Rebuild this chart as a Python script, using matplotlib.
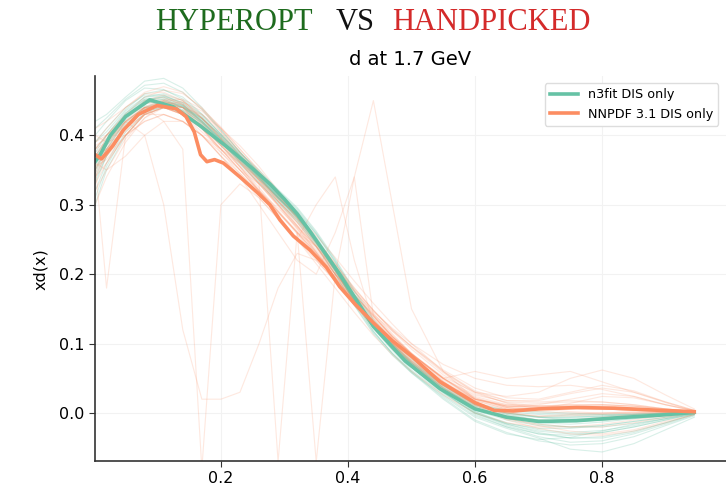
import numpy as np
import matplotlib
matplotlib.use('Agg')
import matplotlib.pyplot as plt

GREEN = '#66c2a5'
ORANGE = '#fc8d62'

# central values
x_n3fit = [0.002, 0.01, 0.026, 0.05, 0.088, 0.125, 0.167, 0.214, 0.25, 0.277, 0.3, 0.32,
           0.34, 0.387, 0.44, 0.49, 0.545, 0.6, 0.65, 0.7, 0.76, 0.82, 0.89, 0.945]
y_n3fit = [0.362, 0.372, 0.4, 0.427, 0.451, 0.441, 0.414, 0.38, 0.352, 0.33, 0.308, 0.287,
           0.262, 0.2, 0.125, 0.075, 0.035, 0.006, -0.006, -0.012, -0.011, -0.007, -0.003, 0.001]

x_nnpdf = [0.002, 0.012, 0.03, 0.046, 0.07, 0.1, 0.13, 0.145, 0.158, 0.168, 0.178, 0.19,
           0.204, 0.23, 0.257, 0.277, 0.293, 0.314, 0.34, 0.366, 0.387, 0.41, 0.44, 0.47,
           0.5, 0.545, 0.6, 0.63, 0.66, 0.7, 0.76, 0.82, 0.89, 0.945]
y_nnpdf = [0.372, 0.366, 0.385, 0.407, 0.43, 0.443, 0.438, 0.427, 0.405, 0.372, 0.362, 0.365,
           0.36, 0.34, 0.318, 0.3, 0.278, 0.255, 0.235, 0.21, 0.182, 0.158, 0.13, 0.104,
           0.082, 0.045, 0.015, 0.004, 0.003, 0.006, 0.008, 0.007, 0.004, 0.002]

# replicas, all on the same x grid
x_rep = [0.002, 0.02, 0.05, 0.08, 0.11, 0.14, 0.17, 0.20, 0.23, 0.26, 0.29, 0.32, 0.35, 0.38,
         0.41, 0.44, 0.47, 0.50, 0.55, 0.60, 0.65, 0.70, 0.75, 0.80, 0.85, 0.90, 0.945]

reps_n3fit = [
    [0.33, 0.37, 0.41, 0.435, 0.44, 0.432, 0.413, 0.39, 0.364, 0.338, 0.31, 0.282, 0.248, 0.205, 0.16, 0.118, 0.085, 0.058, 0.02, -0.012, -0.03, -0.038, -0.035, -0.026, -0.016, -0.008, -0.002],
    [0.40, 0.42, 0.45, 0.468, 0.466, 0.452, 0.43, 0.402, 0.372, 0.345, 0.316, 0.29, 0.258, 0.218, 0.172, 0.132, 0.1, 0.076, 0.042, 0.014, 0.0, -0.005, -0.006, -0.005, -0.003, -0.001, 0.001],
    [0.35, 0.385, 0.42, 0.44, 0.445, 0.437, 0.418, 0.394, 0.368, 0.342, 0.313, 0.286, 0.25, 0.208, 0.163, 0.122, 0.09, 0.062, 0.028, 0.0, -0.015, -0.022, -0.022, -0.018, -0.012, -0.006, 0.0],
    [0.38, 0.40, 0.435, 0.455, 0.457, 0.447, 0.424, 0.397, 0.368, 0.34, 0.31, 0.282, 0.246, 0.204, 0.16, 0.122, 0.094, 0.072, 0.04, 0.012, 0.002, -0.002, -0.004, -0.004, -0.002, 0.0, 0.001],
    [0.31, 0.355, 0.405, 0.432, 0.443, 0.44, 0.424, 0.4, 0.372, 0.344, 0.314, 0.288, 0.254, 0.213, 0.168, 0.128, 0.097, 0.07, 0.032, 0.002, -0.014, -0.024, -0.028, -0.025, -0.018, -0.008, 0.0],
    [0.37, 0.395, 0.43, 0.452, 0.455, 0.443, 0.42, 0.391, 0.36, 0.332, 0.302, 0.275, 0.24, 0.2, 0.156, 0.116, 0.086, 0.06, 0.026, -0.004, -0.02, -0.03, -0.032, -0.028, -0.02, -0.01, -0.001],
    [0.36, 0.392, 0.432, 0.455, 0.46, 0.45, 0.428, 0.402, 0.375, 0.35, 0.322, 0.296, 0.262, 0.222, 0.177, 0.136, 0.104, 0.078, 0.043, 0.013, -0.002, -0.01, -0.012, -0.01, -0.006, -0.002, 0.002],
    [0.34, 0.375, 0.415, 0.44, 0.448, 0.443, 0.425, 0.398, 0.37, 0.343, 0.312, 0.284, 0.248, 0.206, 0.16, 0.118, 0.086, 0.06, 0.022, -0.01, -0.028, -0.04, -0.046, -0.044, -0.034, -0.018, -0.004],
    [0.39, 0.41, 0.44, 0.458, 0.458, 0.445, 0.42, 0.392, 0.364, 0.338, 0.31, 0.284, 0.25, 0.211, 0.168, 0.128, 0.098, 0.074, 0.04, 0.012, 0.0, -0.006, -0.008, -0.007, -0.004, -0.001, 0.002],
    [0.35, 0.38, 0.422, 0.447, 0.452, 0.442, 0.418, 0.39, 0.362, 0.336, 0.305, 0.278, 0.242, 0.2, 0.155, 0.114, 0.083, 0.058, 0.024, -0.006, -0.022, -0.036, -0.052, -0.056, -0.044, -0.024, -0.006],
    [0.365, 0.39, 0.425, 0.446, 0.45, 0.44, 0.42, 0.396, 0.37, 0.346, 0.318, 0.292, 0.258, 0.217, 0.17, 0.13, 0.098, 0.072, 0.036, 0.008, -0.006, -0.014, -0.016, -0.013, -0.008, -0.003, 0.001],
    [0.32, 0.36, 0.41, 0.437, 0.446, 0.441, 0.422, 0.395, 0.366, 0.338, 0.308, 0.28, 0.245, 0.205, 0.162, 0.124, 0.094, 0.068, 0.033, 0.004, -0.01, -0.018, -0.02, -0.018, -0.012, -0.006, 0.0],
    [0.41, 0.425, 0.452, 0.472, 0.475, 0.462, 0.437, 0.407, 0.376, 0.346, 0.315, 0.287, 0.252, 0.21, 0.165, 0.126, 0.095, 0.07, 0.036, 0.008, -0.004, -0.01, -0.012, -0.01, -0.006, -0.002, 0.001],
    [0.355, 0.385, 0.425, 0.447, 0.447, 0.435, 0.412, 0.385, 0.358, 0.332, 0.304, 0.278, 0.244, 0.204, 0.162, 0.124, 0.095, 0.07, 0.036, 0.01, 0.0, -0.006, -0.01, -0.011, -0.008, -0.004, 0.0],
    [0.30, 0.35, 0.40, 0.43, 0.44, 0.436, 0.418, 0.393, 0.366, 0.339, 0.309, 0.281, 0.246, 0.206, 0.163, 0.125, 0.095, 0.069, 0.03, -0.002, -0.02, -0.034, -0.042, -0.04, -0.03, -0.016, -0.003],
    [0.42, 0.43, 0.455, 0.478, 0.482, 0.468, 0.44, 0.408, 0.376, 0.346, 0.314, 0.286, 0.25, 0.208, 0.164, 0.126, 0.096, 0.072, 0.038, 0.012, 0.004, 0.002, 0.0, -0.002, -0.002, 0.0, 0.001],
    [0.345, 0.38, 0.418, 0.442, 0.449, 0.442, 0.424, 0.4, 0.374, 0.348, 0.32, 0.294, 0.26, 0.22, 0.175, 0.134, 0.1, 0.072, 0.034, 0.002, -0.016, -0.026, -0.03, -0.028, -0.02, -0.01, -0.001],
    [0.375, 0.4, 0.432, 0.452, 0.454, 0.444, 0.421, 0.394, 0.366, 0.34, 0.311, 0.284, 0.249, 0.208, 0.164, 0.124, 0.094, 0.069, 0.034, 0.006, -0.008, -0.016, -0.02, -0.02, -0.015, -0.008, 0.0],
    [0.36, 0.388, 0.426, 0.45, 0.456, 0.447, 0.426, 0.398, 0.369, 0.341, 0.311, 0.283, 0.247, 0.206, 0.162, 0.122, 0.092, 0.066, 0.03, 0.0, -0.016, -0.028, -0.036, -0.036, -0.028, -0.014, -0.002],
    [0.39, 0.405, 0.437, 0.46, 0.465, 0.455, 0.431, 0.401, 0.371, 0.342, 0.312, 0.285, 0.25, 0.21, 0.166, 0.127, 0.097, 0.072, 0.037, 0.01, -0.002, -0.006, -0.006, -0.004, -0.002, 0.0, 0.001],
    [0.335, 0.37, 0.412, 0.438, 0.446, 0.44, 0.42, 0.394, 0.367, 0.34, 0.311, 0.283, 0.248, 0.207, 0.163, 0.123, 0.092, 0.066, 0.03, 0.0, -0.018, -0.03, -0.036, -0.034, -0.026, -0.014, -0.002],
    [0.37, 0.392, 0.428, 0.45, 0.452, 0.44, 0.416, 0.389, 0.362, 0.337, 0.309, 0.283, 0.25, 0.211, 0.168, 0.129, 0.099, 0.074, 0.04, 0.014, 0.004, 0.0, -0.002, -0.002, -0.001, 0.0, 0.001],
]

reps_nnpdf = [
    [0.35, 0.38, 0.42, 0.445, 0.45, 0.44, 0.41, 0.38, 0.35, 0.32, 0.29, 0.262, 0.23, 0.195, 0.16, 0.13, 0.104, 0.08, 0.045, 0.02, 0.01, 0.01, 0.012, 0.012, 0.01, 0.006, 0.003],
    [0.40, 0.39, 0.40, 0.42, 0.43, 0.42, 0.40, 0.375, 0.35, 0.33, 0.305, 0.28, 0.25, 0.215, 0.18, 0.148, 0.12, 0.096, 0.06, 0.032, 0.018, 0.016, 0.018, 0.016, 0.012, 0.006, 0.002],
    [0.33, 0.36, 0.40, 0.43, 0.445, 0.44, 0.42, 0.39, 0.355, 0.32, 0.285, 0.25, 0.215, 0.18, 0.145, 0.112, 0.084, 0.06, 0.026, 0.0, -0.014, -0.02, -0.02, -0.016, -0.01, -0.004, 0.0],
    [0.38, 0.40, 0.43, 0.455, 0.465, 0.46, 0.44, 0.41, 0.375, 0.34, 0.305, 0.27, 0.232, 0.195, 0.16, 0.128, 0.1, 0.076, 0.04, 0.012, 0.0, -0.004, -0.002, 0.0, 0.002, 0.002, 0.001],
    [0.36, 0.35, 0.37, 0.40, 0.42, 0.42, 0.40, 0.37, 0.345, 0.32, 0.295, 0.268, 0.24, 0.208, 0.175, 0.146, 0.122, 0.1, 0.07, 0.05, 0.04, 0.038, 0.04, 0.034, 0.024, 0.012, 0.004],
    [0.34, 0.37, 0.41, 0.44, 0.45, 0.445, 0.425, 0.4, 0.37, 0.34, 0.308, 0.275, 0.24, 0.2, 0.162, 0.128, 0.098, 0.072, 0.036, 0.008, -0.008, -0.018, -0.026, -0.03, -0.024, -0.012, -0.002],
    [0.39, 0.41, 0.44, 0.46, 0.462, 0.45, 0.425, 0.395, 0.362, 0.33, 0.298, 0.265, 0.232, 0.2, 0.17, 0.142, 0.118, 0.096, 0.062, 0.036, 0.022, 0.02, 0.03, 0.04, 0.032, 0.016, 0.004],
    [0.37, 0.38, 0.405, 0.43, 0.44, 0.43, 0.405, 0.38, 0.355, 0.33, 0.3, 0.27, 0.238, 0.2, 0.163, 0.13, 0.1, 0.074, 0.038, 0.01, -0.004, -0.01, -0.01, -0.006, -0.002, 0.0, 0.001],
    [0.32, 0.35, 0.395, 0.425, 0.44, 0.44, 0.43, 0.41, 0.385, 0.355, 0.32, 0.285, 0.25, 0.215, 0.18, 0.148, 0.118, 0.092, 0.055, 0.028, 0.015, 0.01, 0.008, 0.006, 0.004, 0.002, 0.001],
    [0.385, 0.395, 0.42, 0.44, 0.448, 0.44, 0.415, 0.385, 0.355, 0.325, 0.292, 0.26, 0.226, 0.19, 0.156, 0.125, 0.098, 0.075, 0.042, 0.02, 0.012, 0.012, 0.02, 0.028, 0.024, 0.012, 0.003],
    [0.355, 0.365, 0.40, 0.43, 0.44, 0.435, 0.415, 0.39, 0.362, 0.335, 0.306, 0.276, 0.244, 0.21, 0.176, 0.144, 0.114, 0.086, 0.046, 0.012, -0.01, -0.022, -0.03, -0.032, -0.026, -0.014, -0.002],
    [0.375, 0.39, 0.425, 0.45, 0.458, 0.45, 0.425, 0.395, 0.364, 0.334, 0.3, 0.268, 0.235, 0.2, 0.165, 0.134, 0.108, 0.085, 0.052, 0.03, 0.024, 0.03, 0.05, 0.062, 0.05, 0.026, 0.006],
    [0.30, 0.34, 0.39, 0.425, 0.445, 0.448, 0.435, 0.41, 0.38, 0.35, 0.318, 0.285, 0.25, 0.212, 0.175, 0.142, 0.112, 0.086, 0.05, 0.022, 0.01, 0.008, 0.01, 0.012, 0.01, 0.006, 0.002],
    [0.41, 0.42, 0.44, 0.462, 0.47, 0.462, 0.438, 0.405, 0.37, 0.335, 0.3, 0.266, 0.232, 0.196, 0.162, 0.132, 0.106, 0.084, 0.05, 0.026, 0.016, 0.014, 0.016, 0.016, 0.012, 0.006, 0.002],
    [0.345, 0.37, 0.41, 0.438, 0.448, 0.44, 0.41, 0.376, 0.345, 0.316, 0.288, 0.26, 0.23, 0.196, 0.162, 0.13, 0.102, 0.078, 0.044, 0.018, 0.006, 0.006, 0.014, 0.024, 0.022, 0.012, 0.003],
    [0.365, 0.385, 0.418, 0.44, 0.445, 0.435, 0.412, 0.386, 0.36, 0.336, 0.31, 0.284, 0.256, 0.224, 0.19, 0.158, 0.128, 0.1, 0.06, 0.03, 0.014, 0.006, 0.002, 0.0, 0.0, 0.001, 0.001],
    [0.39, 0.40, 0.425, 0.448, 0.455, 0.445, 0.418, 0.386, 0.354, 0.322, 0.29, 0.258, 0.225, 0.19, 0.155, 0.124, 0.096, 0.072, 0.036, 0.008, -0.008, -0.016, -0.02, -0.02, -0.014, -0.006, 0.0],
    [0.34, 0.36, 0.40, 0.432, 0.45, 0.452, 0.438, 0.412, 0.38, 0.348, 0.315, 0.282, 0.248, 0.212, 0.178, 0.148, 0.12, 0.095, 0.058, 0.03, 0.018, 0.018, 0.028, 0.036, 0.03, 0.016, 0.004],
    [0.38, 0.39, 0.415, 0.44, 0.452, 0.448, 0.43, 0.405, 0.376, 0.346, 0.314, 0.28, 0.244, 0.206, 0.17, 0.138, 0.11, 0.086, 0.05, 0.022, 0.008, 0.002, 0.0, 0.0, 0.001, 0.001, 0.001],
    [0.355, 0.375, 0.41, 0.436, 0.448, 0.444, 0.424, 0.396, 0.366, 0.336, 0.305, 0.274, 0.24, 0.204, 0.168, 0.136, 0.108, 0.084, 0.05, 0.024, 0.012, 0.01, 0.012, 0.012, 0.01, 0.005, 0.002],
    # badly behaved replicas
    [0.36, 0.40, 0.43, 0.44, 0.42, 0.38, -0.08, 0.30, 0.33, 0.31, 0.28, 0.25, 0.22, 0.19, 0.16, 0.13, 0.10, 0.08, 0.045, 0.015, 0.005, 0.006, 0.008, 0.007, 0.005, 0.003, 0.002],
    [0.37, 0.38, 0.41, 0.43, 0.43, 0.42, 0.40, 0.37, 0.34, 0.30, 0.26, 0.22, 0.20, 0.26, 0.34, 0.45, 0.30, 0.15, 0.06, 0.02, 0.01, 0.01, 0.01, 0.008, 0.006, 0.003, 0.002],
    [0.35, 0.37, 0.40, 0.42, 0.43, 0.42, 0.40, 0.38, 0.36, 0.33, -0.07, 0.26, 0.24, 0.20, 0.17, 0.14, 0.11, 0.085, 0.05, 0.02, 0.008, 0.005, 0.006, 0.006, 0.004, 0.002, 0.001],
    [0.36, 0.18, 0.40, 0.43, 0.44, 0.43, 0.41, 0.385, 0.36, 0.33, 0.30, 0.27, 0.24, 0.205, 0.17, 0.14, 0.11, 0.085, 0.048, 0.02, 0.01, 0.008, 0.01, 0.01, 0.008, 0.004, 0.002],
    [0.38, 0.40, 0.42, 0.40, 0.30, 0.12, 0.02, 0.02, 0.03, 0.10, 0.18, 0.23, 0.22, 0.19, 0.16, 0.13, 0.10, 0.075, 0.04, 0.012, 0.0, -0.005, -0.004, -0.002, 0.0, 0.001, 0.002],
    [0.37, 0.39, 0.42, 0.44, 0.44, 0.43, 0.41, 0.38, 0.35, 0.32, 0.29, 0.26, -0.07, 0.20, 0.34, 0.14, 0.11, 0.085, 0.05, 0.02, 0.008, 0.006, 0.007, 0.006, 0.004, 0.002, 0.001],
    [0.37, 0.39, 0.42, 0.44, 0.44, 0.43, 0.40, 0.37, 0.34, 0.31, 0.28, 0.25, 0.30, 0.34, 0.22, 0.13, 0.10, 0.08, 0.045, 0.018, 0.006, 0.006, 0.008, 0.007, 0.005, 0.003, 0.002],
    [0.36, 0.38, 0.41, 0.43, 0.44, 0.43, 0.41, 0.38, 0.35, 0.32, 0.29, 0.26, 0.23, 0.20, 0.17, 0.14, 0.11, 0.085, 0.05, 0.06, 0.05, 0.055, 0.06, 0.045, 0.03, 0.015, 0.003],
]

fig = plt.figure(figsize=(7.26, 4.92), dpi=100)
ax = fig.add_axes([0.131, 0.063, 0.869, 0.782])

for rep in reps_n3fit:
    ax.plot(x_rep, rep, color=GREEN, lw=0.8, alpha=0.25)
for rep in reps_nnpdf:
    ax.plot(x_rep, rep, color=ORANGE, lw=0.8, alpha=0.2)

ax.plot(x_n3fit, y_n3fit, color=GREEN, lw=2.6, label='n3fit DIS only')
ax.plot(x_nnpdf, y_nnpdf, color=ORANGE, lw=2.6, label='NNPDF 3.1 DIS only')

ax.set_xlim(0.002, 0.995)
ax.set_ylim(-0.069, 0.485)
ax.set_xticks([0.2, 0.4, 0.6, 0.8])
ax.set_yticks([0.0, 0.1, 0.2, 0.3, 0.4])
ax.tick_params(labelsize=11.5, color='#333333', length=4)
ax.grid(True, color='#f2f2f2', lw=0.8)
ax.set_axisbelow(True)
for side in ['top', 'right']:
    ax.spines[side].set_visible(False)
for side in ['left', 'bottom']:
    ax.spines[side].set_color('#333333')
    ax.spines[side].set_linewidth(1.2)

ax.set_ylabel('xd(x)', fontsize=11.5, labelpad=8)
ax.set_title('d at 1.7 GeV', fontsize=14, pad=8)
ax.legend(loc='upper right', bbox_to_anchor=(0.988, 0.982), borderaxespad=0,
          fontsize=9.2, handlelength=2.2, framealpha=1, edgecolor='#dddddd')

# coloured headline
serif = ['Liberation Serif', 'DejaVu Serif']
fig.text(0.431, 0.955, 'HYPEROPT', color='#1e6b1e', fontsize=22, family=serif,
         ha='right', va='center')
fig.text(0.489, 0.955, 'VS', color='#111111', fontsize=22, family=serif,
         ha='center', va='center')
fig.text(0.540, 0.955, 'HANDPICKED', color='#d42a2a', fontsize=22, family=serif,
         ha='left', va='center')

fig.savefig('out.png', dpi=100)
